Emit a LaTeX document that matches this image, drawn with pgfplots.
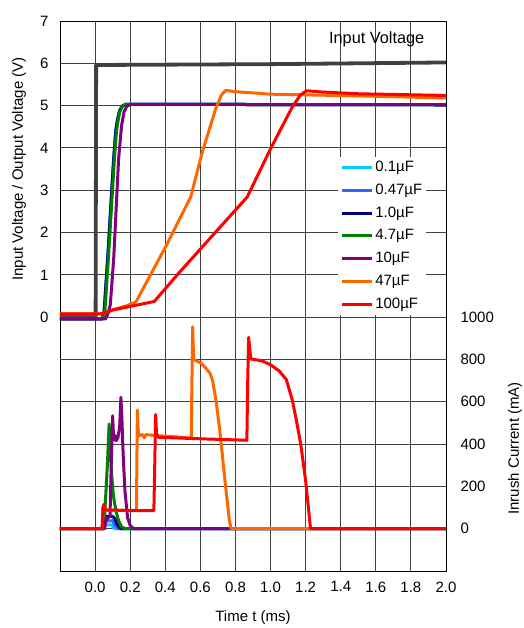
\documentclass[border=0pt]{standalone}
\usepackage{fontspec}
\setmainfont{Liberation Sans}
\usepackage{pgfplots}
\pgfplotsset{compat=1.18}
\definecolor{cIn}{RGB}{64,64,64}
\definecolor{cA}{RGB}{0,204,255}
\definecolor{cB}{RGB}{51,102,255}
\definecolor{cC}{RGB}{0,0,128}
\definecolor{cD}{RGB}{0,128,0}
\definecolor{cE}{RGB}{128,0,128}
\definecolor{cF}{RGB}{255,102,0}
\definecolor{cG}{RGB}{255,0,0}
\begin{document}
\begin{tikzpicture}
\pgfplotsset{
  common/.style={
    scale only axis, width=386pt, height=550pt,
    xmin=-0.2, xmax=2.0,
    font=\fontsize{15}{18}\selectfont,
    /pgf/number format/assume math mode=true,
    /pgf/number format/set thousands separator={},
    major tick length=0pt,
    major grid style={black!75, line width=0.9pt},
    axis line style={black, line width=0.9pt},
    every axis plot/.append style={line width=3pt, line join=round},
  }
}
\begin{axis}[common,
  ymin=-6, ymax=7, ytick={0,...,7},
  xtick={0,0.2,0.4,0.6,0.8,1.0,1.2,1.4,1.6,1.8,2.0},
  xticklabel style={yshift=-7pt, /pgf/number format/.cd, fixed, fixed zerofill, precision=1},
  yticklabel style={xshift=-8pt},
  xmajorgrids, ymajorgrids,
  xlabel={Time t (ms)},
  xlabel style={at={(rel axis cs:0.5,0)}, anchor=north, yshift=-36pt},
  ylabel={Input Voltage / Output Voltage (V)},
  ylabel style={at={(rel axis cs:0,0.7308)}, anchor=center, yshift=41pt},
  legend style={at={(axis cs:1.385,3.80)}, anchor=north west, draw=none, fill=white,
    inner sep=2pt, row sep=4.8pt, font=\fontsize{15}{18}\selectfont,
    nodes={inner sep=2pt, text height=11pt, text depth=3pt}},
  legend cell align=left,
  legend image code/.code={\draw[#1] (0pt,0pt) -- (30pt,0pt);},
]
\coordinate (SW) at (rel axis cs:0,0);
\coordinate (NE) at (rel axis cs:1,1);
\addplot[cIn, line width=3.8pt, forget plot] coordinates {(-0.2,0.02) (0.003,0.02) (0.006,5.96) (0.5,5.97) (1.0,5.98) (1.5,6.0) (2.0,6.02)};
\addplot[cA] coordinates {(-0.2,-0.04) (0.04,-0.04) (0.052,0.1) (0.073,1.4) (0.107,3.74) (0.119,4.4) (0.128,4.65) (0.14,4.88) (0.155,4.99) (0.175,5.03) (2.0,5.02)};
\addlegendentry{0.1µF}
\addplot[cB] coordinates {(-0.2,-0.04) (0.04,-0.04) (0.051,0.1) (0.072,1.4) (0.106,3.74) (0.118,4.4) (0.127,4.65) (0.14,4.88) (0.155,4.99) (0.175,5.03) (2.0,5.02)};
\addlegendentry{0.47µF}
\addplot[cC] coordinates {(-0.2,-0.04) (0.04,-0.04) (0.051,0.1) (0.072,1.4) (0.106,3.74) (0.118,4.4) (0.127,4.65) (0.14,4.88) (0.155,4.99) (0.175,5.03) (2.0,5.02)};
\addlegendentry{1.0µF}
\addplot[cD] coordinates {(-0.2,-0.04) (0.044,-0.04) (0.055,0.1) (0.076,1.4) (0.11,3.74) (0.122,4.4) (0.13,4.62) (0.14,4.85) (0.155,4.98) (0.175,5.03) (2.0,5.02)};
\addlegendentry{4.7µF}
\addplot[cE] coordinates {(-0.2,-0.04) (0.06,-0.04) (0.075,0.1) (0.087,0.3) (0.106,1.38) (0.134,3.74) (0.151,4.53) (0.165,4.85) (0.18,4.98) (0.2,5.03) (2.0,5.02)};
\addlegendentry{10µF}
\addplot[cF] coordinates {(-0.2,0.08) (0.04,0.08) (0.1,0.17) (0.18,0.27) (0.233,0.36) (0.413,1.75) (0.545,2.84) (0.611,3.9) (0.687,4.92) (0.72,5.25) (0.744,5.36) (0.8,5.33) (1.0,5.27) (1.5,5.23) (2.0,5.18)};
\addlegendentry{47µF}
\addplot[cG] coordinates {(-0.2,0.08) (0.04,0.08) (0.1,0.17) (0.22,0.27) (0.337,0.37) (0.479,1.05) (0.867,2.84) (1.0,3.98) (1.123,4.96) (1.17,5.25) (1.205,5.35) (1.3,5.32) (1.5,5.28) (2.0,5.24)};
\addlegendentry{100µF}
\node[font=\fontsize{16.3}{19}\selectfont] at (axis cs:1.605,6.57) {Input Voltage};
\end{axis}
\begin{axis}[common,
  ymin=-200, ymax=2400, ytick={0,200,...,1000},
  axis y line*=right, axis x line=none,
  xmajorgrids=false, ymajorgrids,
  yticklabel style={xshift=11pt},
  ylabel={Inrush Current (mA)},
  ylabel style={at={(rel axis cs:1,0.2231)}, anchor=center, yshift=-69pt},
]
\addplot[cA] coordinates {(-0.2,0) (0.05,0) (0.055,18) (0.095,18) (0.105,5) (0.115,0) (2.0,0)};
\addplot[cB] coordinates {(-0.2,0) (0.05,0) (0.055,35) (0.1,38) (0.11,20) (0.125,3) (0.135,0) (2.0,0)};
\addplot[cC] coordinates {(-0.2,0) (0.048,0) (0.055,55) (0.06,58) (0.1,58) (0.112,48) (0.125,22) (0.14,5) (0.15,0) (2.0,0)};
\addplot[cD] coordinates {(-0.2,0) (0.045,0) (0.05,40) (0.055,70) (0.07,300) (0.08,495) (0.085,400) (0.095,250) (0.105,150) (0.12,80) (0.135,35) (0.15,10) (0.17,0) (2.0,0)};
\addplot[cE] coordinates {(-0.2,0) (0.055,0) (0.06,40) (0.085,60) (0.092,300) (0.1,534) (0.105,440) (0.11,420) (0.115,440) (0.12,416) (0.13,430) (0.14,480) (0.147,621) (0.152,540) (0.16,350) (0.17,180) (0.185,53) (0.2,15) (0.22,0) (2.0,0)};
\addplot[cF] coordinates {(-0.2,0) (0.04,0) (0.045,100) (0.05,110) (0.06,88) (0.236,85) (0.238,300) (0.241,561) (0.245,470) (0.25,440) (0.27,445) (0.28,430) (0.29,445) (0.35,440) (0.45,435) (0.548,428) (0.552,700) (0.556,955) (0.562,800) (0.575,794) (0.6,785) (0.63,760) (0.655,735) (0.67,700) (0.69,600) (0.71,470) (0.74,230) (0.765,40) (0.775,0) (2.0,0)};
\addplot[cG] coordinates {(-0.2,0) (0.04,0) (0.045,100) (0.05,115) (0.06,88) (0.335,85) (0.34,300) (0.345,540) (0.35,450) (0.36,432) (0.6,425) (0.865,418) (0.87,700) (0.875,905) (0.885,820) (0.89,802) (0.95,794) (1.0,775) (1.05,745) (1.09,705) (1.125,605) (1.15,500) (1.172,400) (1.2,227) (1.228,0) (2.0,0)};
\end{axis}
\pgfresetboundingbox
\useasboundingbox ([shift={(-60pt,-57pt)}]SW) rectangle ([shift={(78pt,21pt)}]NE);
\end{tikzpicture}
\end{document}
